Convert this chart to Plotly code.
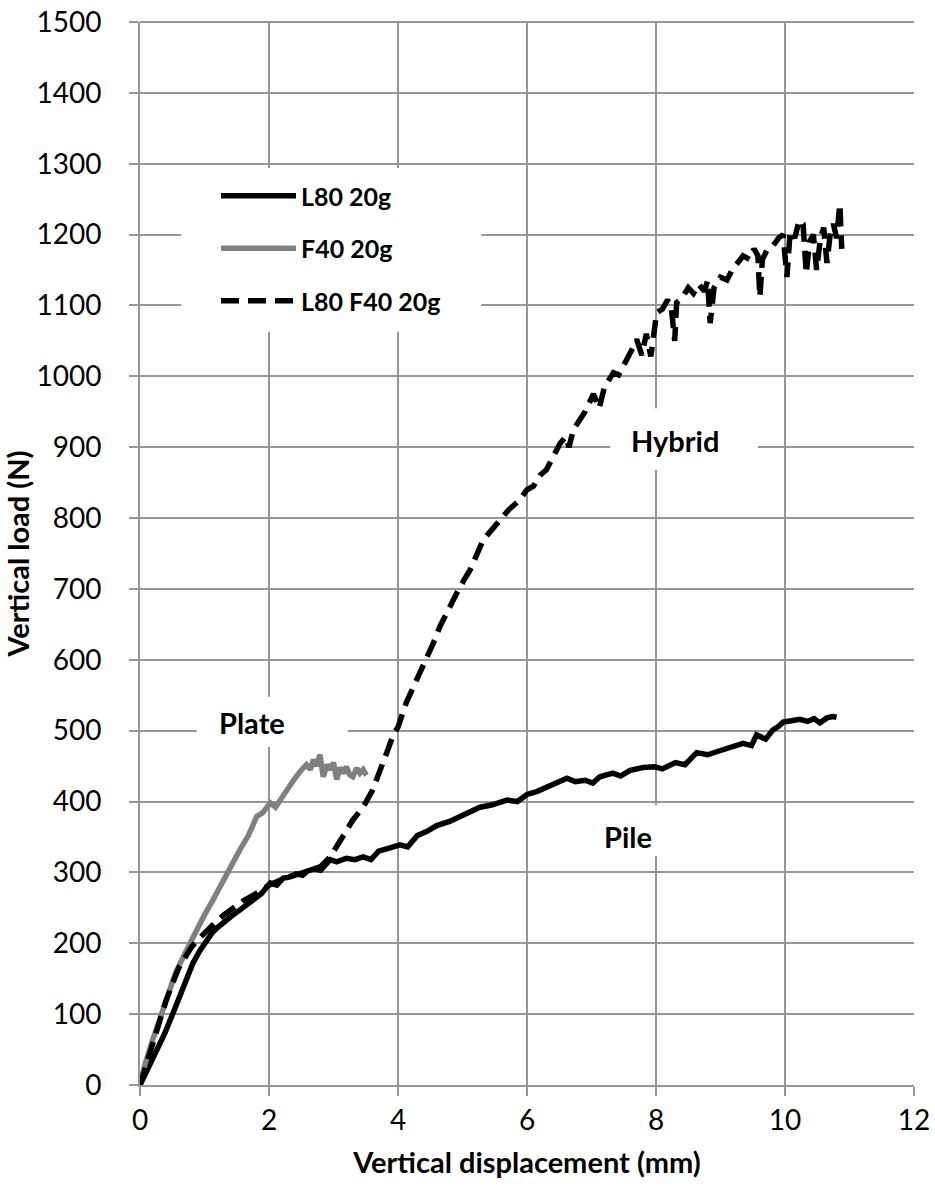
import plotly.graph_objects as go

# ---------------- data ----------------
pile_x = [0, 0.12, 0.25, 0.38, 0.51, 0.65, 0.82, 0.93, 1.03, 1.12, 1.2, 1.3, 1.4, 1.52, 1.63, 1.75, 1.88,
          2.02, 2.12, 2.22, 2.3, 2.42, 2.52, 2.6, 2.7, 2.8, 2.95, 3.05, 3.2, 3.33, 3.46, 3.58, 3.7, 3.85,
          4.03, 4.15, 4.3, 4.45, 4.6, 4.8, 5.0, 5.15, 5.27, 5.45, 5.69, 5.85, 6.0, 6.15, 6.3, 6.45, 6.62,
          6.75, 6.9, 7.02, 7.13, 7.33, 7.45, 7.6, 7.8, 7.98, 8.1, 8.3, 8.45, 8.63, 8.8, 9.0, 9.19, 9.35,
          9.48, 9.56, 9.7, 9.81, 9.9, 9.97, 10.1, 10.23, 10.35, 10.45, 10.54, 10.65, 10.74, 10.8]
pile_y = [0, 22, 45, 72, 101, 135, 172, 190, 205, 215, 222, 230, 237, 245, 252, 261, 270,
          285, 282, 292, 293, 298, 296, 302, 305, 303, 318, 315, 320, 318, 322, 318, 330, 334,
          339, 336, 352, 358, 366, 372, 380, 386, 392, 395, 402, 400, 410, 414, 420, 425, 433,
          428, 430, 426, 435, 440, 436, 444, 448, 449, 446, 455, 452, 469, 466, 472, 477, 482,
          479, 494, 488, 501, 506, 512, 514, 516, 513, 517, 511, 518, 520, 519]

plate_x = [0, 0.08, 0.18, 0.3, 0.41, 0.55, 0.72, 0.88, 1.0, 1.13, 1.25, 1.34, 1.45, 1.55, 1.68, 1.81,
           1.9, 2.02, 2.1, 2.17, 2.25, 2.38, 2.48, 2.58, 2.64, 2.69, 2.74, 2.79, 2.84, 2.9, 2.95, 3.0,
           3.05, 3.1, 3.15, 3.2, 3.25, 3.3, 3.36, 3.41, 3.46, 3.51]
plate_y = [0, 30, 59, 92, 125, 158, 190, 221, 240, 261, 282, 299, 318, 332, 352, 379,
           384, 398, 392, 402, 415, 430, 442, 452, 445, 459, 450, 466, 435, 452, 445, 455,
           431, 448, 440, 449, 438, 435, 447, 440, 445, 437]

hybrid_x = [0, 0.1, 0.2, 0.3, 0.4, 0.5, 0.6, 0.7, 0.8, 0.9, 1.0, 1.15, 1.3, 1.45, 1.6, 1.8, 2.0, 2.2,
            2.4, 2.6, 2.8, 2.95, 3.05, 3.18, 3.3, 3.46, 3.6, 3.72, 3.83, 3.93, 4.0, 4.13, 4.24, 4.34,
            4.44, 4.55, 4.65, 4.78, 4.91, 5.02, 5.12, 5.22, 5.32, 5.45, 5.58, 5.72, 5.89, 6.0, 6.1,
            6.2, 6.3, 6.4, 6.51, 6.6, 6.65, 6.72, 6.8, 6.9, 7.03, 7.12, 7.2, 7.27, 7.34, 7.42, 7.5,
            7.58, 7.64, 7.7, 7.78, 7.85, 7.92, 8.01, 8.1, 8.18, 8.24, 8.29, 8.32, 8.4, 8.5, 8.58,
            8.66, 8.75, 8.8, 8.84, 8.9, 9.0, 9.1, 9.18, 9.27, 9.35, 9.45, 9.52, 9.58, 9.61, 9.65,
            9.72, 9.82, 9.9, 9.97, 10.03, 10.08, 10.15, 10.22, 10.28, 10.33, 10.38, 10.44, 10.49,
            10.55, 10.6, 10.65, 10.7, 10.75, 10.8, 10.85, 10.88]
hybrid_y = [0, 30, 62, 92, 118, 142, 165, 180, 195, 205, 215, 228, 240, 250, 260, 270, 282, 290,
            296, 302, 308, 322, 338, 356, 374, 392, 415, 442, 470, 495, 505, 540, 562, 582,
            600, 624, 647, 672, 694, 712, 727, 748, 769, 783, 797, 812, 826, 840, 845,
            860, 868, 885, 905, 915, 900, 925, 935, 950, 975, 955, 985, 995, 1005, 1002, 1015,
            1030, 1040, 1052, 1030, 1060, 1028, 1090, 1095, 1108, 1095, 1050, 1104, 1110, 1125, 1117,
            1130, 1120, 1135, 1075, 1125, 1140, 1136, 1150, 1160, 1170, 1165, 1180, 1170, 1112, 1165,
            1178, 1185, 1195, 1200, 1140, 1205, 1195, 1220, 1215, 1145, 1190, 1200, 1150,
            1195, 1210, 1160, 1200, 1215, 1195, 1243, 1180]

series_names = ["L80 20g", "F40 20g", "L80 F40 20g"]
curve_labels = ["Plate", "Pile", "Hybrid"]
label_x = [1.73, 7.57, 8.3]
label_y = [512, 351, 909]

x_ticks = [0, 2, 4, 6, 8, 10, 12]
y_ticks = list(range(0, 1501, 100))

assert len(pile_x) == len(pile_y)
assert len(plate_x) == len(plate_y)
assert len(hybrid_x) == len(hybrid_y)

FONT = "Lato"
GRID = "#969696"
LW = 5.5

fig = go.Figure()
fig.add_trace(go.Scatter(x=pile_x, y=pile_y, mode="lines", name="<b>%s</b>" % series_names[0],
                         legendgroup="a", line=dict(color="black", width=LW)))
fig.add_trace(go.Scatter(x=plate_x, y=plate_y, mode="lines", name="<b>%s</b>" % series_names[1],
                         legendgroup="b", line=dict(color="#808080", width=LW)))
fig.add_trace(go.Scatter(x=hybrid_x, y=hybrid_y, mode="lines", name="<b>%s</b>" % series_names[2],
                         legendgroup="c", line=dict(color="black", width=LW, dash="18px,9px")))

# white boxes behind labels and legend (above grid, below traces)
boxes = [(0.64, 5.29, 1063, 1294), (0.88, 3.22, 477, 548), (6.2, 8.12, 323, 395), (7.29, 9.58, 868, 955)]
for x0, x1, y0, y1 in boxes:
    fig.add_shape(type="rect", xref="x", yref="y", x0=x0, x1=x1, y0=y0, y1=y1,
                  fillcolor="white", line=dict(width=0), layer="between")

# top border of the plot area (gridline at the top of the range)
fig.add_shape(type="line", xref="paper", yref="paper", x0=0, x1=1, y0=1, y1=1,
              line=dict(color=GRID, width=2), layer="between")

for t, xx, yy in zip(curve_labels, label_x, label_y):
    fig.add_annotation(x=xx, y=yy, text="<b>%s</b>" % t, showarrow=False,
                       font=dict(family=FONT, size=29, color="black"))

fig.update_layout(
    width=935, height=1192,
    margin=dict(l=140, r=21, t=22, b=107),
    paper_bgcolor="white", plot_bgcolor="white",
    font=dict(family=FONT, color="black"),
    showlegend=True,
    legend=dict(x=(216 - 140) / 774, y=(1085 - 173) / 1063, xanchor="left", yanchor="top",
                bgcolor="rgba(0,0,0,0)", font=dict(family=FONT, size=25, color="black"),
                traceorder="grouped", tracegroupgap=17, itemwidth=75),
    xaxis=dict(range=[0, 12], tickvals=x_ticks, showgrid=True, gridcolor=GRID, gridwidth=2,
               showline=True, linecolor=GRID, linewidth=2, ticks="outside", ticklen=9,
               tickcolor=GRID, tickwidth=2, zeroline=False, tickfont=dict(size=28),
               automargin=False, ticklabeloverflow="allow",
               title=dict(text="<b>Vertical displacement (mm)</b>", font=dict(size=29), standoff=18)),
    yaxis=dict(range=[0, 1500], tickvals=y_ticks, showgrid=True, gridcolor=GRID, gridwidth=2,
               showline=True, linecolor=GRID, linewidth=2, ticks="outside", ticklen=9,
               tickcolor=GRID, tickwidth=2, zeroline=False, tickfont=dict(size=28),
               ticklabelstandoff=22, automargin=False, ticklabeloverflow="allow",
               title=dict(text="<b>Vertical load (N)</b>", font=dict(size=29), standoff=0)),
)

# remove the browser's default 8px page margin so the 935x1192 figure fills the window
fig.write_html("out.html", config={"displayModeBar": False},
               post_script="document.body.style.margin='0';document.body.style.overflow='hidden';")
